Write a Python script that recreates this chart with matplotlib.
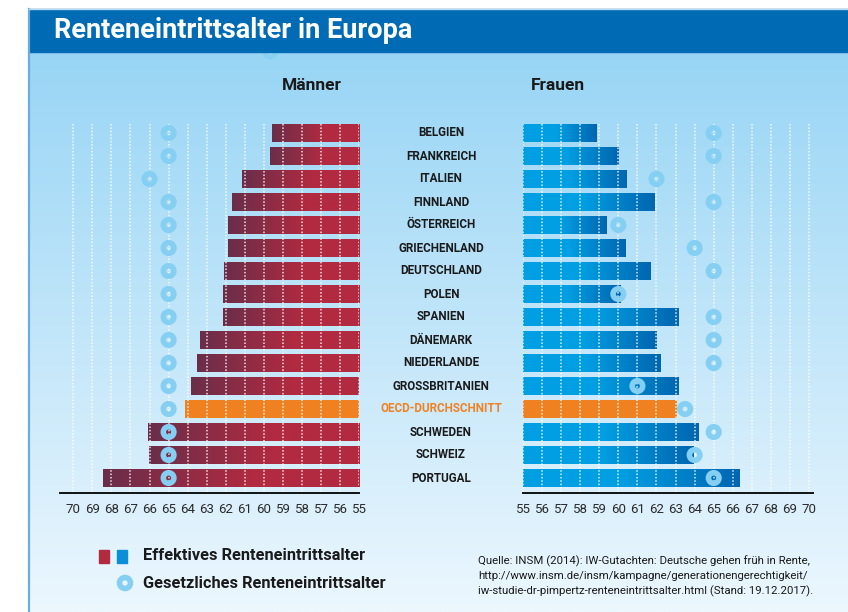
import numpy as np
import matplotlib
matplotlib.use("Agg")
import matplotlib.pyplot as plt
from matplotlib.patches import Rectangle, Circle
from matplotlib.colors import to_rgb

plt.rcParams["font.family"] = ["Roboto", "DejaVu Sans"]

# ---- data -------------------------------------------------------------
countries = ["BELGIEN", "FRANKREICH", "ITALIEN", "FINNLAND", "ÖSTERREICH",
             "GRIECHENLAND", "DEUTSCHLAND", "POLEN", "SPANIEN", "DÄNEMARK",
             "NIEDERLANDE", "GROSSBRITANIEN", "OECD-DURCHSCHNITT", "SCHWEDEN",
             "SCHWEIZ", "PORTUGAL"]
men_effective = [59.6, 59.7, 61.15, 61.7, 61.9, 61.9, 62.1, 62.15, 62.15,
                 63.35, 63.5, 63.8, 64.15, 66.1, 66.05, 68.45]
women_effective = [58.83, 60.0, 60.45, 61.87, 59.4, 60.35, 61.7, 60.1, 63.18,
                   62.0, 62.2, 63.18, 63.08, 64.18, 63.92, 66.33]
men_legal = [65, 65, 66, 65, 65, 65, 65, 65, 65, 65, 65, 65, 65, 65, 65, 65]
women_legal = [65, 65, 62, 65, 60, 64, 65, 60, 65, 65, 65, 61, 63.5, 65, 64, 65]
oecd_label = "OECD-DURCHSCHNITT"
age_ticks = list(range(55, 71))

title = "Renteneintrittsalter in Europa"
legend_effective = "Effektives Renteneintrittsalter"
legend_legal = "Gesetzliches Renteneintrittsalter"
source_lines = [
    "Quelle: INSM (2014): IW-Gutachten: Deutsche gehen früh in Rente,",
    "http://www.insm.de/insm/kampagne/generationengerechtigkeit/",
    "iw-studie-dr-pimpertz-renteneintrittsalter.html (Stand: 19.12.2017).",
]

# ---- colours ----------------------------------------------------------
MEN_DARK, MEN_RED = "#6a2e4a", "#b22a40"
WOM_LIGHT, WOM_DARK = "#009fe3", "#0066b0"
ORANGE = "#ef8121"
RING = "#85cff3"
BAND = "#006bb5"

W, H = 848, 612
fig = plt.figure(figsize=(W / 100, H / 100), dpi=100)
fig.patch.set_facecolor("white")

# background canvas in pixel coordinates
bg = fig.add_axes([0, 0, 1, 1])
bg.set_xlim(0, W)
bg.set_ylim(H, 0)
bg.axis("off")
top_c, bot_c = np.array(to_rgb("#98d5f5")), np.array(to_rgb("#ecf7fe"))
t = np.linspace(0, 1, 256)[:, None]
grad = (top_c * (1 - t) + bot_c * t)[:, None, :].repeat(2, axis=1)
bg.imshow(grad, extent=[29, W, H, 52], aspect="auto", zorder=0,
          interpolation="bilinear")
bg.add_patch(Circle((270, 52), 5.5, fill=False, ec="#8ad0f3", lw=3, zorder=1))
bg.add_patch(Rectangle((29, 9), W - 29, 43, color=BAND, zorder=2))
bg.plot([29, 29], [9, H], color="#6aaee0", lw=1.6, zorder=3)
bg.plot([29, W], [8.5, 8.5], color="#b9dcf2", lw=1, zorder=3)
bg.text(54, 31, title, color="white", fontsize=19.5, fontweight="bold",
        va="center", ha="left", zorder=4)
bg.set_xlim(0, W)
bg.set_ylim(H, 0)

# ---- geometry of the two panels --------------------------------------
row_px, row0_px = 23.0, 133.0
top_px, spine_px = 118.0, 493.0
px_per_year = 19.07
bar_h = 18 / row_px
y_top = (top_px - row0_px) / row_px
y_bot = (spine_px - row0_px) / row_px

men_lim = (70.7, 55)
wom_lim = (55, 70.2)
men_left_px = 359.3 - (men_lim[0] - men_lim[1]) * px_per_year
wom_left_px = 523.0


def make_axes(left_px, span):
    ax = fig.add_axes([left_px / W, 1 - spine_px / H,
                       span * px_per_year / W, (spine_px - top_px) / H])
    ax.patch.set_alpha(0)
    for s in ("top", "right", "left"):
        ax.spines[s].set_visible(False)
    ax.spines["bottom"].set_color("#111111")
    ax.spines["bottom"].set_linewidth(1.4)
    ax.set_yticks([])
    ax.set_xticks(age_ticks)
    ax.set_xticklabels([str(a) for a in age_ticks], fontsize=9.5,
                       color="#2a2a2a")
    ax.tick_params(axis="x", length=0, pad=7)
    return ax


ax_m = make_axes(men_left_px, men_lim[0] - men_lim[1])
ax_w = make_axes(wom_left_px, wom_lim[1] - wom_lim[0])

rows = np.arange(len(countries))


def ramp(c_outer, c_inner, frac, n=256, outer_first=True):
    """Colour ramp along a bar: c_outer at the tip, fading to c_inner."""
    a, b = np.array(to_rgb(c_outer)), np.array(to_rgb(c_inner))
    s = np.linspace(0, 1, n)
    k = np.clip(s / frac, 0, 1)[:, None]
    cols = a * (1 - k) + b * k
    if not outer_first:
        cols = cols[::-1]
    return cols[None, :, :]


def draw_side(ax, values, legal, lim, men):
    bars = ax.barh(rows, [v - 55 for v in values], left=55, height=bar_h,
                   color=[ORANGE if c == oecd_label else
                          (MEN_RED if men else WOM_LIGHT) for c in countries],
                   zorder=2, linewidth=0)
    for bar, v, c in zip(bars, values, countries):
        if c == oecd_label:
            continue
        y = bar.get_y()
        if men:
            img = ramp(MEN_DARK, MEN_RED, 0.6)
            extent = [v, 55, y + bar_h, y]
        else:
            img = ramp(WOM_DARK, WOM_LIGHT, 0.55, outer_first=False)
            extent = [55, v, y + bar_h, y]
        im = ax.imshow(img, extent=extent, aspect="auto", zorder=2.5,
                       interpolation="bilinear")
        im.set_clip_path(bar)
    # dotted grid over everything
    ax.vlines(age_ticks, -bar_h / 2, y_bot, colors="white",
              linestyles=(0, (1, 1.2)), lw=1.1, alpha=0.85, zorder=3)
    ax.scatter(legal, rows, s=58, facecolors="none", edgecolors=RING,
               linewidths=4, zorder=4)
    ax.set_xlim(*lim)
    ax.set_ylim(y_bot, y_top)


draw_side(ax_m, men_effective, men_legal, men_lim, True)
draw_side(ax_w, women_effective, women_legal, wom_lim, False)

# ---- labels -----------------------------------------------------------
for i, c in enumerate(countries):
    bg.text(441, row0_px + i * row_px, c, ha="center", va="center",
            fontsize=8.4, fontweight="bold",
            color=ORANGE if c == oecd_label else "#1a1a1a", zorder=5)

bg.text(312, 85, "Männer", ha="center", va="center", fontsize=12.5,
        fontweight="bold", color="#1a1a1a")
bg.text(558, 85, "Frauen", ha="center", va="center", fontsize=12.5,
        fontweight="bold", color="#1a1a1a")

# legend
bg.add_patch(Rectangle((99, 550), 10, 13, color=MEN_RED))
bg.add_patch(Rectangle((117, 550), 10, 13, color="#0a8fd8"))
bg.add_patch(Circle((125, 583), 5.5, fill=False, ec=RING, lw=4))
bg.text(143, 556, legend_effective, ha="left", va="center", fontsize=11.8,
        fontweight="bold", color="#1a1a1a")
bg.text(143, 584, legend_legal, ha="left", va="center", fontsize=11.8,
        fontweight="bold", color="#1a1a1a")

for k, line in enumerate(source_lines):
    bg.text(478, 561 + 15 * k, line, ha="left", va="center", fontsize=8.2,
            color="#1a1a1a")

fig.savefig("out.png", dpi=100)
